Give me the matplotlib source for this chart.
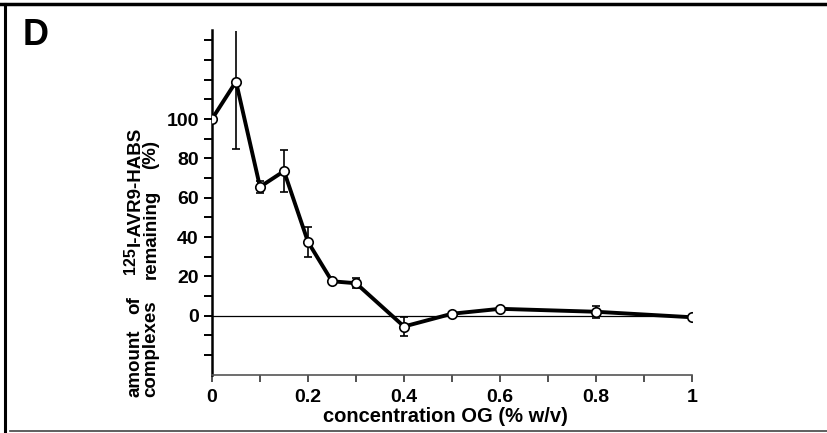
import matplotlib
matplotlib.use("Agg")
import matplotlib.pyplot as plt
from matplotlib.lines import Line2D
from matplotlib.ticker import FixedLocator

plt.rcParams['font.family'] = ['Liberation Sans', 'DejaVu Sans']
plt.rcParams['font.weight'] = 'bold'

# data
conc = [0, 0.05, 0.1, 0.15, 0.2, 0.25, 0.3, 0.4, 0.5, 0.6, 0.8, 1.0]
remaining = [100, 119, 65.5, 73.5, 37.5, 17.5, 16.5, -5.5, 1, 3.5, 2, -0.8]
err = [0, 34, 3, 10.5, 7.5, 1, 2.5, 5, 1, 1, 3, 1]
xtick_vals = [0, 0.2, 0.4, 0.6, 0.8, 1]
xtick_labels = ['0', '0.2', '0.4', '0.6', '0.8', '1']
ytick_vals = [0, 20, 40, 60, 80, 100]
ytick_labels = ['0', '20', '40', '60', '80', '100']
ylabel_line1 = ['amount', 'of', '125', 'I-AVR9-HABS']
ylabel_line2 = ['complexes', 'remaining', '(%)']
xlabel = 'concentration OG (% w/v)'
panel = 'D'

W, H = 827, 433
fig = plt.figure(figsize=(W / 100, H / 100), dpi=100)
ax = fig.add_axes([212 / W, 1 - 374.7 / H, 480 / W, 344.2 / H])
ax.set_xlim(0, 1)
ax.set_ylim(-30, 145)

ax.axhline(0, xmin=0, xmax=1, color='black', lw=0.9, zorder=1)
ax.errorbar(conc, remaining, yerr=err, fmt='none', ecolor='black',
            elinewidth=1.2, capsize=3, capthick=1.2, zorder=2)
ax.plot(conc, remaining, color='black', lw=2.8, zorder=3)
ax.plot(conc, remaining, 'o', ms=6.8, mfc='white', mec='black', mew=1.2, zorder=4)

for s in ['top', 'right']:
    ax.spines[s].set_visible(False)
ax.spines['left'].set_linewidth(1.8)
ax.spines['bottom'].set_linewidth(1.2)
ax.spines['bottom'].set_color('#555555')

ax.xaxis.set_major_locator(FixedLocator(xtick_vals))
ax.set_xticklabels(xtick_labels)
ax.xaxis.set_minor_locator(FixedLocator([0.1, 0.3, 0.5, 0.7, 0.9]))
ax.yaxis.set_major_locator(FixedLocator(ytick_vals))
ax.set_yticklabels(ytick_labels)
ax.yaxis.set_minor_locator(FixedLocator([-20, -10, 10, 30, 50, 70, 90, 110, 120, 130, 140]))

ax.tick_params(axis='x', which='both', direction='out', length=5, width=1.2,
               color='#333333', pad=5, labelsize=14)
ax.tick_params(axis='y', which='both', direction='out', length=5.5, width=1.4,
               color='black', pad=4, labelsize=14)
for lab in ax.get_xticklabels() + ax.get_yticklabels():
    lab.set_fontweight('bold')

fig.text(445.5 / W, 1 - 422 / H, xlabel, ha='center',
         va='baseline', fontsize=14.5, fontweight='bold')

fig.text(23 / W, 1 - 45 / H, panel, ha='left', va='baseline', fontsize=26,
         fontweight='bold')

# rotated y label built from pieces
fig.canvas.draw()
renderer = fig.canvas.get_renderer()


def place_line(pieces, x_base, y_start, sizes, offsets, gaps):
    y = y_start
    for txt, fs, off, gap in zip(pieces, sizes, offsets, gaps):
        t = fig.text((x_base - off) / W, y / H, txt, rotation=90,
                     rotation_mode='anchor', ha='left', va='baseline',
                     fontsize=fs, fontweight='bold')
        ext = t.get_window_extent(renderer)
        y += ext.height + gap


place_line(ylabel_line1, 139.5, H - 397, [13.5, 13.5, 11.5, 13.5], [0, 0, 5, 0],
           [16, 22, 1, 0])
place_line(ylabel_line2, 155.5, H - 397, [13.5, 13.5, 13.5], [0, 0, 0],
           [21, 21, 0])

# frame lines around panel
fig.add_artist(Line2D([0, 1], [1 - 4 / H, 1 - 4 / H], color='black', lw=2.5,
                      transform=fig.transFigure))
fig.add_artist(Line2D([5 / W, 5 / W], [1 - 4 / H, 1 - 431 / H], color='black',
                      lw=2.2, transform=fig.transFigure))
fig.add_artist(Line2D([10 / W, 1], [1 - 431 / H, 1 - 431 / H], color='#444444',
                      lw=1.2, transform=fig.transFigure))

fig.savefig('out.png', dpi=100)
